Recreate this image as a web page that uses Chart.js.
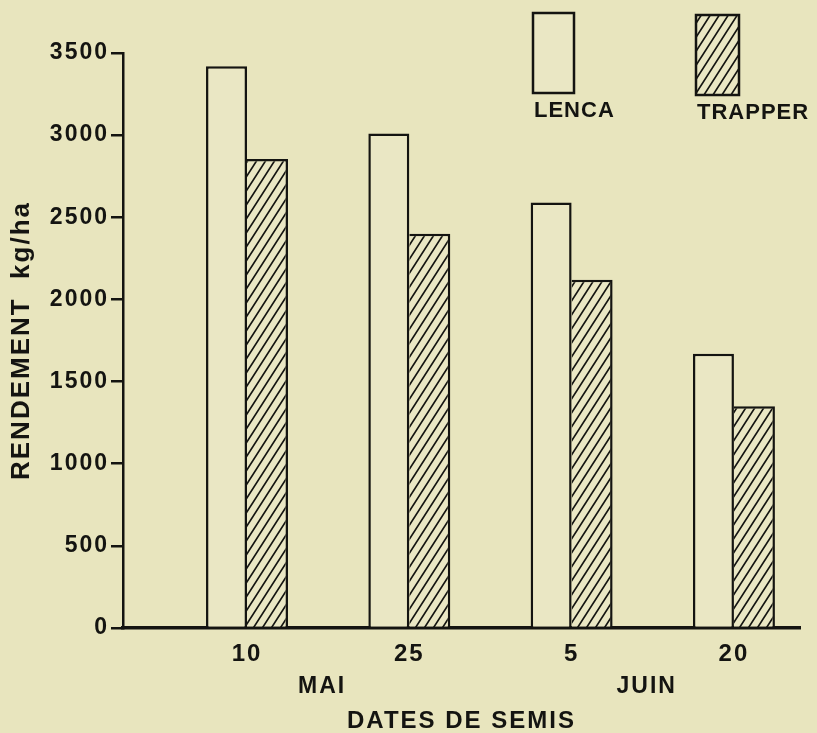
<!DOCTYPE html>
<html>
<head>
<meta charset="utf-8">
<script src="https://cdn.jsdelivr.net/npm/chart.js@4.4.0/dist/chart.umd.min.js"></script>
<style>
  html, body { margin: 0; padding: 0; background: #e8e5be; }
  #cadre { width: 817px; height: 733px; }
</style>
</head>
<body>
<div id="cadre"><canvas id="rendement" width="817" height="733"></canvas></div>
<script>
// dates de semis (jour) et mois correspondant
const DATES = ['10', '25', '5', '20'];
const MOIS = ['MAI', 'JUIN'];
const MOIS_DE = [0, 0, 1, 1];

// rendement kg/ha
const LENCA = [3420, 3010, 2590, 1670];
const TRAPPER = [2855, 2400, 2120, 1350];

const FOND = '#e8e5be';
const CLAIR = '#eae7c4';
const ENCRE = '#141411';
const POLICE = '"Liberation Sans", Arial, sans-serif';
const GRAS = '600';

// motif hachure "/"
function hachures() {
    const w = 9, h = 14;
    const c = document.createElement('canvas');
    c.width = w; c.height = h;
    const g = c.getContext('2d');
    g.fillStyle = CLAIR;
    g.fillRect(0, 0, w, h);
    g.strokeStyle = ENCRE;
    g.lineWidth = 1.7;
    g.beginPath();
    for (let k = 0; k <= 2; k++) {
        g.moveTo(k * w + w, -h);
        g.lineTo(k * w - 2 * w, 2 * h);
    }
    g.stroke();
    return g.createPattern(c, 'repeat');
}

// espacement des lettres (lettrage a la main)
const espacement = {
    id: 'espacement',
    beforeLayout(chart) { chart.ctx.letterSpacing = '2px'; },
    beforeDraw(chart) { chart.ctx.letterSpacing = '2px'; }
};

// legende: case au dessus du nom
const legende = {
    id: 'legende',
    afterDraw(chart) {
        const ctx = chart.ctx;
        const cases = [[533, 13, 41, 80], [696, 15, 43, 80]];
        ctx.save();
        ctx.letterSpacing = '1px';
        chart.data.datasets.forEach((ds, i) => {
            const [x, y, w, h] = cases[i];
            ctx.fillStyle = ds.backgroundColor;
            ctx.fillRect(x, y, w, h);
            ctx.strokeStyle = ENCRE;
            ctx.lineWidth = 2.5;
            ctx.strokeRect(x, y, w, h);
            ctx.fillStyle = ENCRE;
            ctx.font = GRAS + ' 22px ' + POLICE;
            ctx.textAlign = 'left';
            ctx.textBaseline = 'middle';
            ctx.fillText(ds.label, x + 1, y + h + 18);
        });
        ctx.restore();
    }
};

// mois sous les dates
const mois = {
    id: 'mois',
    afterDraw(chart) {
        const ctx = chart.ctx;
        const xs = chart.scales.x;
        ctx.save();
        ctx.letterSpacing = '2px';
        ctx.fillStyle = ENCRE;
        ctx.font = GRAS + ' 23px ' + POLICE;
        ctx.textAlign = 'center';
        ctx.textBaseline = 'middle';
        MOIS.forEach((m, j) => {
            const idx = MOIS_DE.map((k, i) => k === j ? i : -1).filter(i => i >= 0);
            const milieu = (idx[0] + idx[idx.length - 1]) / 2;
            ctx.fillText(m, xs.getPixelForValue(milieu) - 6, chart.chartArea.bottom + 59);
        });
        ctx.restore();
    }
};

const ctx = document.getElementById('rendement').getContext('2d');
new Chart(ctx, {
    type: 'bar',
    data: {
        datasets: [{
            label: 'LENCA',
            data: LENCA.map((v, i) => ({ x: i, y: v })),
            backgroundColor: CLAIR,
            borderColor: ENCRE,
            borderWidth: { top: 2.5, left: 2.5, right: 2.5, bottom: 0 },
            borderSkipped: 'start',
            categoryPercentage: 0.505,
            barPercentage: 1
        }, {
            label: 'TRAPPER',
            data: TRAPPER.map((v, i) => ({ x: i, y: v })),
            backgroundColor: hachures(),
            borderColor: ENCRE,
            borderWidth: { top: 2.5, left: 0, right: 2.5, bottom: 0 },
            borderSkipped: 'start',
            categoryPercentage: 0.505,
            barPercentage: 1
        }]
    },
    options: {
        responsive: false,
        animation: false,
        devicePixelRatio: 1,
        layout: { padding: { top: 53, right: 17, bottom: 0, left: 0 } },
        plugins: {
            legend: { display: false },
            tooltip: { enabled: false }
        },
        scales: {
            x: {
                type: 'linear',
                min: -0.764,
                max: 3.407,
                offset: false,
                grid: { display: false, drawTicks: false, offset: false },
                border: { display: true, color: ENCRE, width: 3.5 },
                afterBuildTicks: (scale) => {
                    scale.ticks = DATES.map((d, i) => ({ value: i }));
                },
                ticks: {
                    autoSkip: false,
                    maxRotation: 0,
                    padding: 12,
                    color: ENCRE,
                    font: { family: POLICE, size: 24, weight: GRAS },
                    callback: (v) => DATES[v]
                },
                title: {
                    display: true,
                    text: 'DATES DE SEMIS',
                    color: ENCRE,
                    font: { family: POLICE, size: 24, weight: GRAS, lineHeight: 1 },
                    padding: { top: 0, bottom: 0 }
                },
                afterFit: (scale) => { scale.height = 105; }
            },
            y: {
                min: 0,
                max: 3500,
                ticks: {
                    stepSize: 500,
                    padding: 2,
                    color: ENCRE,
                    font: { family: POLICE, size: 23, weight: GRAS },
                    callback: (v) => String(v)
                },
                grid: {
                    display: true,
                    drawOnChartArea: false,
                    drawTicks: true,
                    tickLength: 12,
                    color: ENCRE,
                    lineWidth: 2.5
                },
                border: { display: true, color: ENCRE, width: 2.5 },
                title: {
                    display: true,
                    text: 'RENDEMENT  kg/ha',
                    color: ENCRE,
                    font: { family: POLICE, size: 26, weight: GRAS },
                    padding: { top: 6, bottom: 0 }
                },
                afterFit: (scale) => { scale.width = 123; }
            }
        }
    },
    plugins: [espacement, legende, mois]
});
</script>
</body>
</html>
